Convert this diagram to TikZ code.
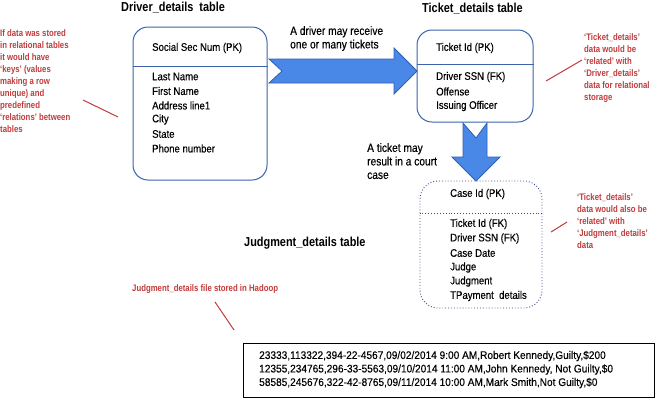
\documentclass[tikz,border=0pt]{standalone}
\usepackage{fontspec}
\setmainfont{Liberation Sans}[FakeStretch=0.82]
\newfontfamily\bodyf{Liberation Sans}[FakeStretch=0.87,FakeBold=0.3]
\newfontfamily\annf{Liberation Sans}[FakeStretch=0.85,FakeBold=0.4]
\newfontfamily\titlef{Liberation Sans Bold}[FakeStretch=0.84]
\newfontfamily\dataf{Liberation Sans}[FakeStretch=0.92,FakeBold=0.2]
\usetikzlibrary{positioning}
\definecolor{boxblue}{HTML}{3B64AD}
\definecolor{arrfill}{HTML}{4A88E8}
\definecolor{arrline}{HTML}{2F5FB5}
\definecolor{notered}{HTML}{C23B3B}
\definecolor{dotblue}{HTML}{3A4A8A}
\tikzset{
  tbox/.style={draw=boxblue, line width=1pt, rounded corners=15pt, inner sep=0pt},
  cbox/.style={draw=dotblue, line width=0.9pt, dotted, rounded corners=18pt, inner sep=0pt},
  ftxt/.style={anchor=west, inner sep=0pt, font=\bodyf\fontsize{11}{12}\selectfont},
  ann/.style={anchor=north west, inner sep=0pt, align=left, font=\annf\fontsize{12}{13.5}\selectfont},
  ttl/.style={anchor=west, inner sep=0pt, font=\titlef\fontsize{13}{14}\selectfont},
  note/.style={anchor=north west, inner sep=0pt, align=left, text=notered, font=\fontsize{9.5}{12}\selectfont\bfseries},
  noteline/.style={draw=notered, line width=1pt},
  blockarrow/.style={fill=arrfill, draw=arrline, line width=0.8pt, line join=miter},
  dtxt/.style={anchor=west, inner sep=0pt, font=\dataf\fontsize{11}{12}\selectfont}
}
\begin{document}
\begin{tikzpicture}[x=1pt,y=-1pt]
\useasboundingbox (0,0) rectangle (658,400);
% titles
\node[ttl] (t1) at (121,8) {Driver\_details\ \ table};
\node[ttl] (t2) at (422,9) {Ticket\_details table};
\node[ttl] (t3) at (244,243) {Judgment\_details table};
% driver box
\node[tbox, minimum width=134pt, minimum height=153pt] (driver) at (200,103.5) {};
\draw[boxblue, line width=1pt] (driver.west |- 0,66) -- (driver.east |- 0,66);
\node[ftxt] (d0) at (152,48) {Social Sec Num (PK)};
\node[ftxt] (d1) at (152,76.5) {Last Name};
\node[ftxt] (d2) at (152,91) {First Name};
\node[ftxt] (d3) at (152,105.5) {Address line1};
\node[ftxt] (d4) at (152,119.5) {City};
\node[ftxt] (d5) at (152,134) {State};
\node[ftxt] (d6) at (152,148.5) {Phone number};
% ticket box
\node[tbox, minimum width=116pt, minimum height=92pt] (ticket) at (475,76) {};
\draw[boxblue, line width=1pt] (ticket.west |- 0,64) -- (ticket.east |- 0,64);
\node[ftxt] (k0) at (436,48) {Ticket Id (PK)};
\node[ftxt] (k1) at (436,77) {Driver SSN (FK)};
\node[ftxt] (k2) at (436,91.5) {Offense};
\node[ftxt] (k3) at (436,106) {Issuing Officer};
% case box
\node[cbox, minimum width=122pt, minimum height=127pt] (case) at (481,244.5) {};
\draw[dotblue, line width=0.9pt, dotted] (case.west |- 0,213) -- (case.east |- 0,213);
\node[ftxt] (c0) at (450,194) {Case Id (PK)};
\node[ftxt] (c1) at (450,224) {Ticket Id (FK)};
\node[ftxt] (c2) at (450,238.5) {Driver SSN (FK)};
\node[ftxt] (c3) at (450,253) {Case Date};
\node[ftxt] (c4) at (450,267.5) {Judge};
\node[ftxt] (c5) at (450,281.5) {Judgment};
\node[ftxt] (c6) at (450,296) {TPayment\ \ details};
% arrows
\draw[blockarrow] (269,59) -- (394,59) -- (394,48) -- (417,71) -- (394,94) -- (394,83) -- (269,83) -- (282,71) -- cycle;
\draw[blockarrow] (463,123) -- (476,138) -- (487,123) -- (487,157) -- (500,157) -- (476,181) -- (452,157) -- (463,157) -- cycle;
\node[ann] (a1) at (290,26) {A driver may receive\\one or many tickets};
\node[ann] (a2) at (367,143) {A ticket may\\result in a court\\case};
% notes
\node[note] (n1) at (0,29) {If data was stored\\in relational tables\\it would have\\`keys' (values\\making a row\\unique) and\\predefined\\`relations' between\\tables};
\coordinate (l1a) at (83,100); \coordinate (l1b) at (118,117);
\draw[noteline] (l1a) -- (l1b);
\node[note] (n2) at (584,33) {`Ticket\_details'\\data would be\\`related' with\\`Driver\_details'\\data for relational\\storage};
\coordinate (l2a) at (546,81); \coordinate (l2b) at (582,60);
\draw[noteline] (l2a) -- (l2b);
\node[note] (n3) at (577,193) {`Ticket\_details'\\data would also be\\`related' with\\`Judgment\_details'\\data};
\coordinate (l3a) at (551,232); \coordinate (l3b) at (567,222);
\draw[noteline] (l3a) -- (l3b);
\node[note, anchor=west] (n4) at (132,289) {Judgment\_details file stored in Hadoop};
\coordinate (l4a) at (215,302); \coordinate (l4b) at (234,330);
\draw[noteline] (l4a) -- (l4b);
% data box
\node[draw=black, line width=1pt, minimum width=411pt, minimum height=54pt, inner sep=0pt] (data) at (448.5,370) {};
\node[dtxt] (r1) at (259,356) {23333,113322,394-22-4567,09/02/2014 9:00 AM,Robert Kennedy,Guilty,\$200};
\node[dtxt] (r2) at (259,369.5) {12355,234765,296-33-5563,09/10/2014 11:00 AM,John Kennedy, Not Guilty,\$0};
\node[dtxt] (r3) at (259,383) {58585,245676,322-42-8765,09/11/2014 10:00 AM,Mark Smith,Not Guilty,\$0};
\end{tikzpicture}
\end{document}
